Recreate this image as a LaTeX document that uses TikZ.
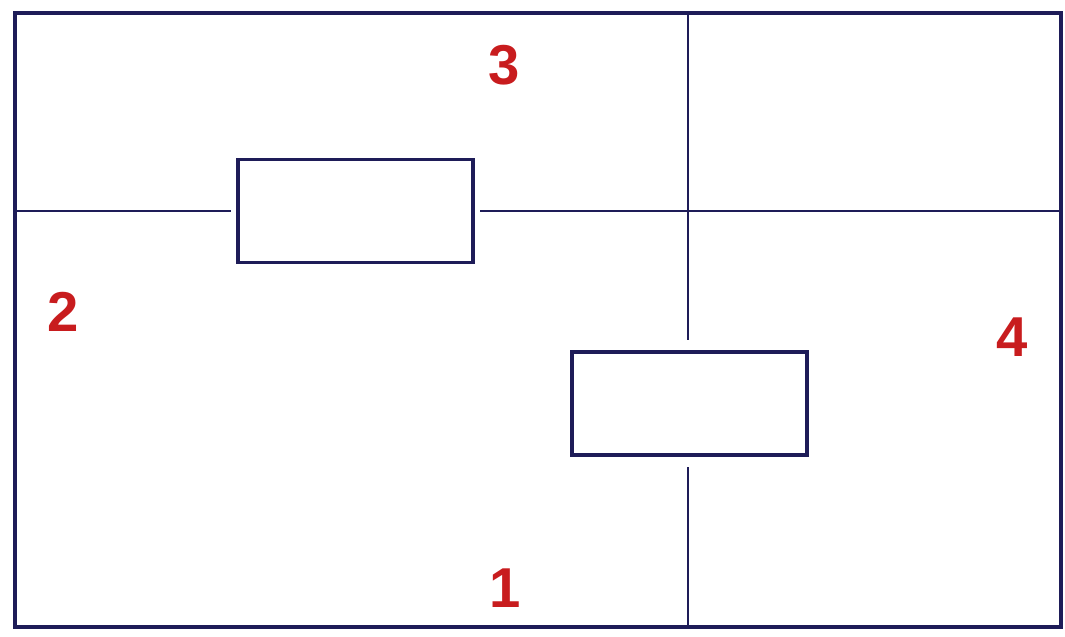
\documentclass[tikz,border=0pt]{standalone}
\usepackage{fontspec}
\setmainfont{Liberation Sans}
\usepackage{xcolor}
\usepackage{tikz}
\usetikzlibrary{shapes,arrows,positioning,calc}

\definecolor{navy}{RGB}{30,28,88}
\definecolor{numred}{RGB}{200,28,30}

\begin{document}
\begin{tikzpicture}[x=0.02cm,y=-0.02cm,
  frame/.style={draw=navy,line width=2.2pt},
  wire/.style={draw=navy,line width=1.1pt},
  blok/.style={draw=navy,line width=2.2pt,fill=white,minimum width=4.7cm,minimum height=2.06cm,inner sep=0pt},
  num/.style={text=numred,font=\fontsize{32}{32}\selectfont\bfseries,inner sep=0pt}]
  \useasboundingbox (0,0) rectangle (1065,636);
  % 外框
  \draw[frame] (15,13) rectangle (1061,627);
  \coordinate (L) at (15,211);
  \coordinate (R) at (1061,211);
  \coordinate (T) at (688,13);
  \coordinate (B) at (688,627);
  % 两个方块
  \node[blok] (b1) at (355.5,211) {};
  \node[blok] (b2) at (689.5,403.5) {};
  % 线
  \draw[wire,shorten >=3] (L) -- (b1.west);
  \draw[wire,shorten <=3] (b1.east) -- (R);
  \draw[wire,shorten >=6] (T) -- (T |- b2.north);
  \draw[wire,shorten <=6] (T |- b2.south) -- (B);
  % 数字
  \node[num] (n3) at (504,65) {3};
  \node[num] (n2) at (63,312) {2};
  \node[num] (n4) at (1012,337) {4};
  \node[num] (n1) at (505,588) {1};
\end{tikzpicture}
\end{document}
